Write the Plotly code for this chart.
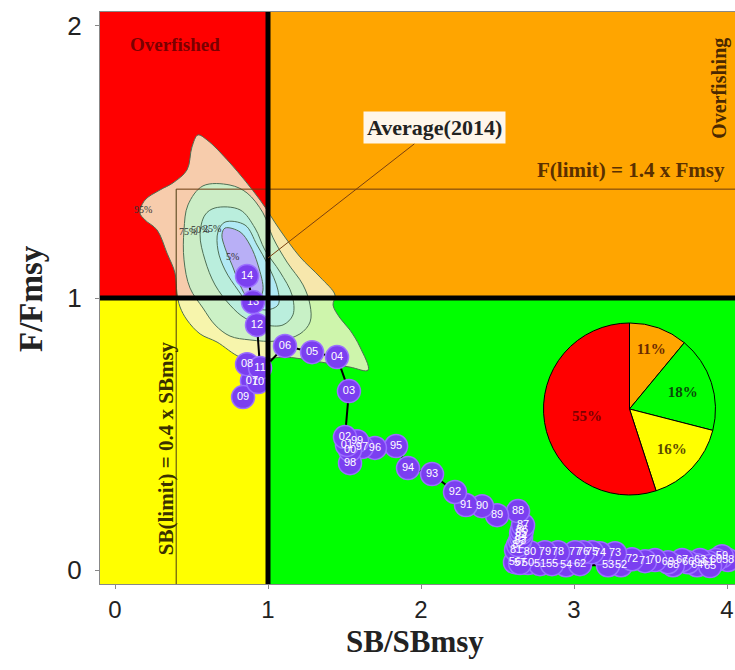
import plotly.graph_objects as go

# ---------------- data ----------------
years = ["50","51","52","53","54","55","56","57","58","59",
         "60","61","62","63","64","65","66","67","68","69",
         "70","71","72","73","74","75","76","77","78","79",
         "80","81","82","83","84","85","86","87","88","89",
         "90","91","92","93","94","95","96","97","98","99",
         "00","01","02","03","04","05","06","07","08","09",
         "10","11","12","13","14"]
sb_ratio = [2.699,2.778,3.307,3.222,2.948,2.856,2.614,2.647,4.007,3.967,
            3.928,3.876,3.039,3.824,3.804,3.889,3.745,3.706,3.647,3.614,
            3.529,3.464,3.379,3.268,3.170,3.118,3.059,3.007,2.895,2.810,
            2.712,2.621,2.634,2.647,2.654,2.654,2.660,2.667,2.634,2.497,
            2.399,2.294,2.222,2.072,1.915,1.837,1.699,1.614,1.536,1.582,
            1.536,1.516,1.503,1.529,1.451,1.288,1.111,0.895,0.863,0.837,
            0.935,0.948,0.928,0.902,0.863]
f_ratio = [0.026,0.022,0.018,0.018,0.018,0.022,0.029,0.026,0.037,0.051,
           0.037,0.029,0.022,0.037,0.018,0.015,0.029,0.037,0.018,0.029,
           0.037,0.033,0.040,0.062,0.062,0.066,0.066,0.066,0.066,0.066,
           0.066,0.074,0.092,0.107,0.121,0.136,0.147,0.165,0.217,0.202,
           0.235,0.239,0.287,0.353,0.375,0.456,0.449,0.452,0.393,0.474,
           0.441,0.460,0.489,0.658,0.783,0.801,0.824,0.695,0.757,0.636,
           0.691,0.743,0.901,0.985,1.081]

# density contours of the 2014 estimate (95%, 75%, 50%, 25%, 5%)
c95_x = [0.542,0.601,0.752,0.948,1.078,1.209,1.340,1.438,1.425,1.471,1.536,1.601,1.654,
         1.536,1.340,1.098,0.948,0.817,0.667,0.556,0.471,0.425,0.405,0.392,0.340,0.275,
         0.196,0.163,0.196,0.294,0.379,0.471,0.503]
c95_y = [1.599,1.581,1.496,1.360,1.250,1.151,1.077,1.011,0.974,0.926,0.882,0.820,0.735,
         0.746,0.765,0.783,0.772,0.783,0.838,0.868,0.919,0.967,1.018,1.092,1.165,1.250,
         1.287,1.313,1.360,1.397,1.423,1.471,1.555]
c75_x = [0.575,0.752,0.863,0.967,1.033,1.124,1.229,1.275,1.275,1.209,1.059,0.882,0.752,
         0.654,0.575,0.490,0.451,0.451,0.477]
c75_y = [1.412,1.415,1.386,1.313,1.221,1.132,1.048,0.974,0.912,0.868,0.842,0.846,0.860,
         0.901,0.963,1.037,1.140,1.250,1.342]
c50_x = [0.654,0.817,0.915,0.980,1.078,1.157,1.163,1.098,0.980,0.850,0.752,0.654,0.588,0.556,0.588]
c50_y = [1.331,1.324,1.257,1.176,1.096,1.011,0.938,0.901,0.901,0.926,0.974,1.048,1.140,1.232,1.305]
c25_x = [0.719,0.850,0.928,1.000,1.065,1.065,0.980,0.882,0.804,0.719,0.673,0.673]
c25_y = [1.279,1.268,1.195,1.121,1.029,0.974,0.956,0.974,1.029,1.103,1.176,1.243]
c05_x = [0.719,0.817,0.882,0.935,0.967,0.935,0.869,0.817,0.765,0.719,0.699]
c05_y = [1.257,1.243,1.195,1.121,1.029,0.993,1.000,1.048,1.121,1.184,1.232]

pie_labels = ["Overfishing", "Healthy", "Overfished only", "Overfished & overfishing"]
pie_values = [11, 18, 16, 55]

x_ticks = [0, 1, 2, 3, 4]
y_ticks = [0, 1, 2]

# ---------------- styling ----------------
XR = [-0.098, 4.052]
YR = [-0.051, 2.051]
SERIF = "Liberation Serif"
SANS = "Liberation Sans"
RED, ORANGE, YELLOW, GREEN = "#FF0000", "#FFA500", "#FFFF00", "#00FF00"

fig = go.Figure()

contours = [
    (c95_x, c95_y, "rgba(246,243,205,0.84)"),
    (c75_x, c75_y, "rgba(200,240,200,0.92)"),
    (c50_x, c50_y, "rgba(185,238,222,0.92)"),
    (c25_x, c25_y, "rgba(176,232,246,0.92)"),
    (c05_x, c05_y, "rgba(184,172,246,0.95)"),
]
for cx, cy, col in contours:
    fig.add_trace(go.Scatter(
        x=cx + cx[:1], y=cy + cy[:1], mode="lines", fill="toself",
        fillcolor=col, line=dict(color="#4f6f55", width=1, shape="spline", smoothing=1.0),
        hoverinfo="skip", showlegend=False))

fig.add_trace(go.Scatter(
    x=sb_ratio, y=f_ratio, mode="lines+markers+text", text=years,
    textposition="middle center",
    textfont=dict(family=SANS, size=11, color="white"),
    line=dict(color="black", width=2),
    marker=dict(size=23, color="#7B3FF0", line=dict(color="#9B70FF", width=1.5)),
    showlegend=False, cliponaxis=True))

fig.add_trace(go.Pie(
    values=pie_values, labels=pie_labels, sort=False, direction="clockwise",
    rotation=0, marker=dict(colors=[ORANGE, GREEN, YELLOW, RED],
                            line=dict(color="black", width=1)),
    texttemplate="<b>%{value}%</b>", textposition="inside",
    insidetextfont=dict(family=SERIF, size=15,
                        color=["#6a2a00", "#0a4a0a", "#5a4a00", "#7a0000"]),
    domain=dict(x=[0.6976, 0.9701], y=[0.1556, 0.4563]),
    showlegend=False, hoverinfo="skip"))

shapes = [
    dict(type="rect", xref="x", yref="y", x0=XR[0], x1=1, y0=1, y1=YR[1], fillcolor=RED, line_width=0, layer="below"),
    dict(type="rect", xref="x", yref="y", x0=1, x1=XR[1], y0=1, y1=YR[1], fillcolor=ORANGE, line_width=0, layer="below"),
    dict(type="rect", xref="x", yref="y", x0=XR[0], x1=1, y0=YR[0], y1=1, fillcolor=YELLOW, line_width=0, layer="below"),
    dict(type="rect", xref="x", yref="y", x0=1, x1=XR[1], y0=YR[0], y1=1, fillcolor=GREEN, line_width=0, layer="below"),
    # limit reference lines
    dict(type="line", xref="x", yref="y", x0=0.4, x1=0.4, y0=YR[0], y1=1.4, line=dict(color="#4a3a10", width=1), layer="above"),
    dict(type="line", xref="x", yref="y", x0=0.4, x1=XR[1], y0=1.4, y1=1.4, line=dict(color="#6a3a10", width=1), layer="above"),
    # MSY reference lines
    dict(type="line", xref="x", yref="y", x0=1, x1=1, y0=YR[0], y1=YR[1], line=dict(color="black", width=5), layer="above"),
    dict(type="line", xref="x", yref="y", x0=XR[0], x1=XR[1], y0=1, y1=1, line=dict(color="black", width=5), layer="above"),
]

annotations = [
    dict(x=0.39, y=1.93, xref="x", yref="y", text="<b>Overfished</b>", showarrow=False,
         font=dict(family=SERIF, size=19, color="#7a0000")),
    dict(x=3.95, y=1.77, xref="x", yref="y", text="<b>Overfishing</b>", showarrow=False, textangle=-90,
         font=dict(family=SERIF, size=20, color="#4a2800")),
    dict(x=4.0, y=1.47, xref="x", yref="y", text="<b>F(limit) = 1.4 x Fmsy</b>", showarrow=False,
         xanchor="right", font=dict(family=SERIF, size=21, color="#5a3000")),
    dict(x=0.33, y=0.45, xref="x", yref="y", text="<b>SB(limit) = 0.4 x SBmsy</b>", showarrow=False,
         textangle=-90, font=dict(family=SERIF, size=21, color="#3a3000")),
    dict(x=1.0, y=1.147, xref="x", yref="y", ax=2.09, ay=1.625, axref="x", ayref="y",
         text="<b>Average(2014)</b>", showarrow=True, arrowhead=0, arrowwidth=1,
         arrowcolor="#7a4010", bgcolor="#FFF6EA", borderpad=3,
         font=dict(family=SERIF, size=22, color="#222")),
    dict(x=0.183, y=1.324, xref="x", yref="y", text="95%", showarrow=False,
         font=dict(family=SERIF, size=10, color="#333")),
    dict(x=0.477, y=1.243, xref="x", yref="y", text="75%", showarrow=False,
         font=dict(family=SERIF, size=10, color="#333")),
    dict(x=0.556, y=1.250, xref="x", yref="y", text="50%", showarrow=False,
         font=dict(family=SERIF, size=10, color="#333")),
    dict(x=0.635, y=1.254, xref="x", yref="y", text="25%", showarrow=False,
         font=dict(family=SERIF, size=10, color="#333")),
    dict(x=0.771, y=1.151, xref="x", yref="y", text="5%", showarrow=False,
         font=dict(family=SERIF, size=10, color="#333")),
    # axis titles
    dict(x=0.4961, y=-0.1000, xref="paper", yref="paper", text="<b>SB/SBmsy</b>", showarrow=False,
         xanchor="center", yanchor="middle", font=dict(family=SERIF, size=31, color="#222")),
    dict(x=-0.1087, y=0.5, xref="paper", yref="paper", text="<b>F/Fmsy</b>", showarrow=False,
         textangle=-90, xanchor="center", yanchor="middle",
         font=dict(family=SERIF, size=33, color="#222")),
]

fig.update_layout(
    width=735, height=670,
    margin=dict(l=100, r=0, t=12, b=86, autoexpand=False),
    paper_bgcolor="white", plot_bgcolor="white",
    shapes=shapes, annotations=annotations,
    xaxis=dict(range=XR, tickvals=x_ticks, showgrid=False, zeroline=False, automargin=False,
               showline=True, mirror=True, linecolor="#888", linewidth=1,
               ticks="outside", ticklen=4, tickcolor="#888", ticklabelstandoff=0,
               tickfont=dict(family=SANS, size=24, color="#222")),
    yaxis=dict(range=YR, tickvals=y_ticks, showgrid=False, zeroline=False, automargin=False,
               showline=True, mirror=True, linecolor="#888", linewidth=1,
               ticks="outside", ticklen=4, tickcolor="#888", ticklabelstandoff=8,
               tickfont=dict(family=SANS, size=26, color="#222")),
)

fig.write_html("out.html", config={"displayModeBar": False},
               post_script="document.body.style.margin='0';document.body.style.overflow='hidden';")
